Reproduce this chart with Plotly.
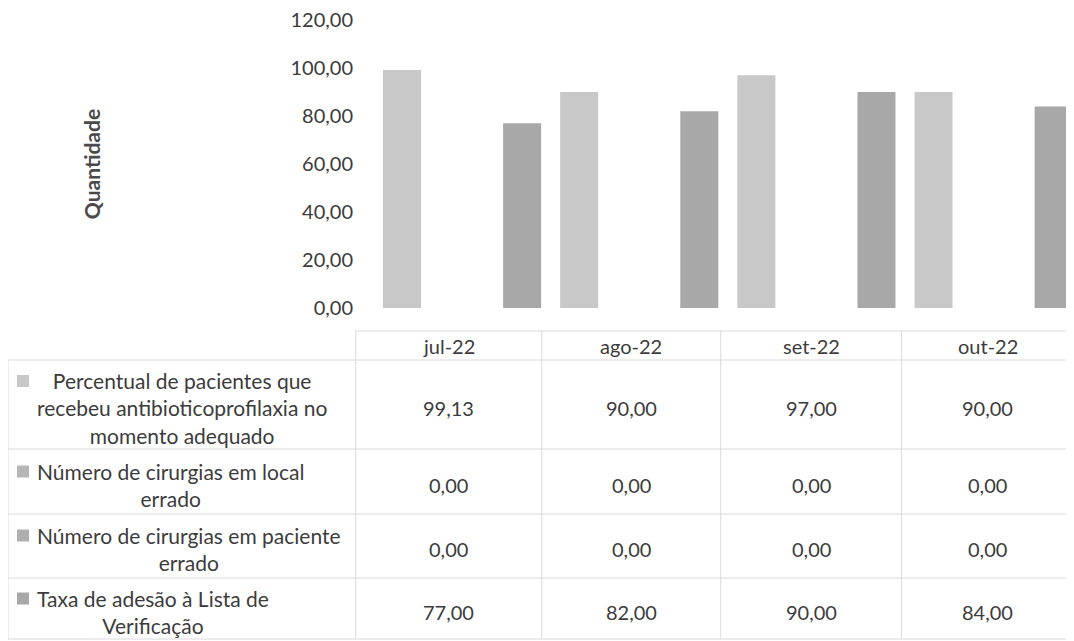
import plotly.graph_objects as go

# ---------------- data ----------------
months = ["jul-22", "ago-22", "set-22", "out-22"]
series_names = [
    "Percentual de pacientes que<br>recebeu antibioticoprofilaxia no<br>momento adequado",
    "Número de cirurgias em local<br>errado",
    "Número de cirurgias em paciente<br>errado",
    "Taxa de adesão à Lista de<br>Verificação",
]
pct_antibioticoprofilaxia = [99.13, 90.00, 97.00, 90.00]
cirurgias_local_errado = [0.00, 0.00, 0.00, 0.00]
cirurgias_paciente_errado = [0.00, 0.00, 0.00, 0.00]
taxa_adesao_lista = [77.00, 82.00, 90.00, 84.00]
y_ticks = [0, 20, 40, 60, 80, 100, 120]
y_title = "Quantidade"

series_values = [pct_antibioticoprofilaxia, cirurgias_local_errado,
                 cirurgias_paciente_errado, taxa_adesao_lista]
series_colors = ["#c8c8c8", "#b6b6b6", "#afafaf", "#a8a8a8"]

# ---------------- layout geometry ----------------
# The page body has an 8px margin, so the figure is 8px smaller and all
# screen positions below are converted into figure positions.
OFF = 8
W, H = 1074 - OFF, 641 - OFF
SL, ST, SB = 354, 20, 308            # plot edges in screen pixels
L, T, B = SL - OFF, ST - OFF, SB - OFF
PW, PH = W - L, B - T

def px_x(px):          # screen x -> paper x
    return (px - OFF - L) / PW

def px_y(py):          # screen y -> paper y
    return (B - (py - OFF)) / PH

FONT = "Lato"
TXT = "#3c3c3c"
GRID = "#dadada"

fig = go.Figure()
xs = list(range(len(months)))
for name, vals, col in zip(series_names, series_values, series_colors):
    fig.add_trace(go.Bar(x=xs, y=vals, name=name.replace("<br>", " "),
                         marker=dict(color=col, line=dict(width=0)),
                         showlegend=False))

# data table -------------------------------------------------
col_edges = [-0.6, 0.45, 1.46, 2.48, 3.454]       # in category units
col_centers = [(col_edges[i] + col_edges[i + 1]) / 2 for i in range(len(months))]
row_lines = [331, 360, 449, 514, 578, 639]        # screen y of horizontal rules
row_centers = [408, 485, 549, 612]
line_h = 27

def fmt(v):
    return f"{v:.2f}".replace(".", ",")

ann = []
shapes = []
# header
for c, m in zip(col_centers, months):
    ann.append(dict(x=c, y=px_y(346), xref="x", yref="paper", text=m,
                    showarrow=False, xanchor="center", yanchor="middle",
                    font=dict(family=FONT, size=20, color=TXT)))
# rows
for r, (name, vals, col) in enumerate(zip(series_names, series_values, series_colors)):
    yc = row_centers[r]
    nlines = name.count("<br>") + 1
    ann.append(dict(x=px_x(35), y=px_y(yc), xref="paper", yref="paper", text=name,
                    showarrow=False, xanchor="left", yanchor="middle", align="center",
                    font=dict(family=FONT, size=21, color=TXT)))
    first = yc - (nlines - 1) * line_h / 2
    shapes.append(dict(type="rect", xref="paper", yref="paper",
                       x0=px_x(17), x1=px_x(29), y0=px_y(first - 6), y1=px_y(first + 6),
                       fillcolor=col, line=dict(width=0)))
    for c, v in zip(col_centers, vals):
        ann.append(dict(x=c, y=px_y(yc), xref="x", yref="paper", text=fmt(v),
                        showarrow=False, xanchor="center", yanchor="middle",
                        font=dict(family=FONT, size=20, color=TXT)))

# grid lines of the table
shapes.append(dict(type="line", xref="paper", yref="paper",
                   x0=px_x(355), x1=1, y0=px_y(row_lines[0]), y1=px_y(row_lines[0]),
                   line=dict(color=GRID, width=1)))
for yl in row_lines[1:]:
    shapes.append(dict(type="line", xref="paper", yref="paper",
                       x0=px_x(8), x1=1, y0=px_y(yl), y1=px_y(yl),
                       line=dict(color=GRID, width=1)))
shapes.append(dict(type="line", xref="paper", yref="paper",
                   x0=px_x(8), x1=px_x(8), y0=px_y(row_lines[1]), y1=px_y(row_lines[-1]),
                   line=dict(color=GRID, width=1)))
for e in col_edges[:-1]:
    shapes.append(dict(type="line", xref="x", yref="paper",
                       x0=e, x1=e, y0=px_y(row_lines[0]), y1=px_y(row_lines[-1]),
                       line=dict(color=GRID, width=1)))

fig.update_layout(
    width=W, height=H,
    margin=dict(l=L, r=0, t=T, b=H - B, pad=0),
    paper_bgcolor="white", plot_bgcolor="white",
    barmode="group", bargap=0.096, bargroupgap=0.05,
    separators=",.",
    font=dict(family=FONT, size=20, color=TXT),
    annotations=ann, shapes=shapes,
    xaxis=dict(range=[-0.61, 3.454], showticklabels=False, showgrid=False,
               zeroline=False, showline=False, ticks=""),
    yaxis=dict(range=[0, 120], tickvals=y_ticks, tickformat=".2f",
               ticklabeloverflow="allow",
               showgrid=False, zeroline=False, showline=False, ticks="",
               tickfont=dict(family=FONT, size=20, color=TXT),
               title=dict(text="<b>" + y_title + "</b>", standoff=184,
                          font=dict(family=FONT, size=21, color="#4a4a4a"))),
)

fig.write_html("out.html")
